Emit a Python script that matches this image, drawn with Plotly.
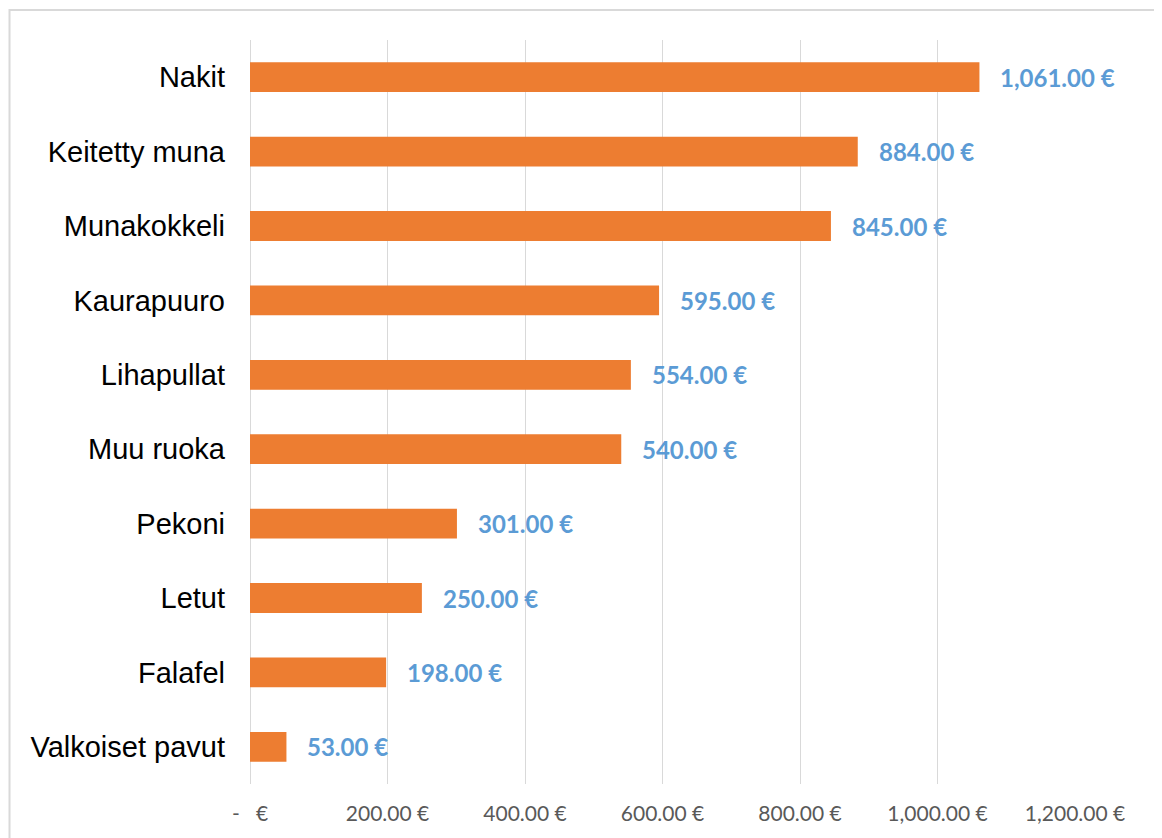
import plotly.graph_objects as go

categories = ["Nakit", "Keitetty muna", "Munakokkeli", "Kaurapuuro", "Lihapullat",
              "Muu ruoka", "Pekoni", "Letut", "Falafel", "Valkoiset pavut"]
values = [1061, 884, 845, 595, 554, 540, 301, 250, 198, 53]
tick_values = [0, 200, 400, 600, 800, 1000, 1200]
tick_labels = ["-   €", "200.00 €", "400.00 €", "600.00 €", "800.00 €", "1,000.00 €", "1,200.00 €"]

def fmt(v):
    return f"{v:,.2f} €"

fig = go.Figure()
fig.add_trace(go.Bar(
    x=values, y=categories, orientation="h",
    marker=dict(color="#ED7D31", line=dict(width=0)),
    width=0.4, hoverinfo="x+y",
))

for c, v in zip(categories, values):
    fig.add_annotation(
        x=v, y=c, xref="x", yref="y", text=f"<b>{fmt(v)}</b>",
        showarrow=False, xanchor="left", yanchor="middle", xshift=19,
        font=dict(family="Lato, Open Sans, sans-serif", size=24, color="#5B9BD5"),
    )

# chart border
fig.add_shape(type="rect", xref="paper", yref="paper",
              x0=-0.2915, x1=1.103, y0=-0.08, y1=1.0403,
              line=dict(color="#D9D9D9", width=2), layer="below")

fig.update_layout(
    width=1162, height=838,
    margin=dict(l=242, r=95, t=32, b=62),
    paper_bgcolor="white", plot_bgcolor="white",
    showlegend=False,
    bargap=0.6,
    xaxis=dict(
        range=[0, 1200], tickvals=tick_values, ticktext=tick_labels,
        showgrid=True, gridcolor="#D9D9D9", gridwidth=1,
        zeroline=True, zerolinecolor="#D9D9D9", zerolinewidth=1,
        showline=False, ticks="",
        tickfont=dict(family="Lato, Open Sans, sans-serif", size=21, color="#595959"),
        ticklabelstandoff=15,
    ),
    yaxis=dict(
        autorange="reversed", showgrid=False, showline=False, ticks="",
        tickfont=dict(family="Liberation Sans, Arial, sans-serif", size=29, color="#000000"),
        ticklabelstandoff=24,
    ),
)

fig.write_html("out.html")
